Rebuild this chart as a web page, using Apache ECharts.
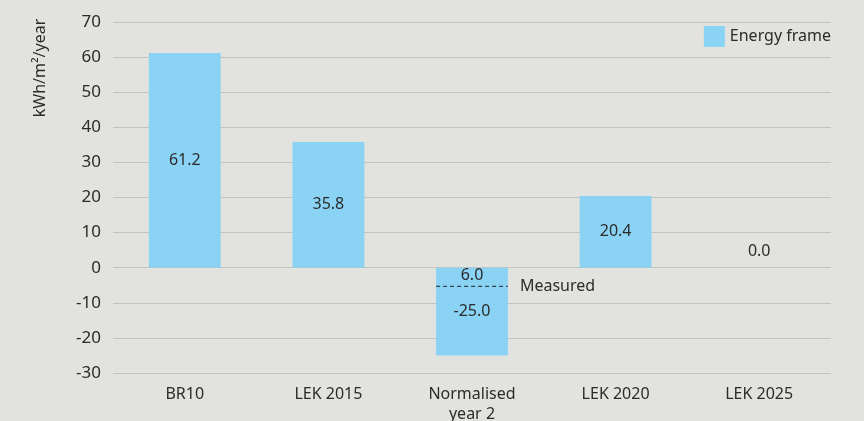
<!DOCTYPE html>
<html lang="en">
<head>
    <meta charset="UTF-8">
    <title>Energy frame</title>
    <script src="https://cdn.jsdelivr.net/npm/echarts@6/dist/echarts.min.js"></script>
    <style>
        html, body { margin: 0; padding: 0; background: #e2e2de; }
    </style>
</head>
<body>
    <div id="main" style="width: 864px;height:421px;"></div>
    <script type="text/javascript">
        // data
        var categories = ['BR10', 'LEK 2015', 'Normalised\nyear 2', 'LEK 2020', 'LEK 2025'];
        var energyFrame = [61.2, 35.8, -25.0, 20.4, 0.0];
        var yTicks = [-30, 70, 10];          // min, max, interval
        var measuredIndex = 2;               // category holding the measured marker
        var measuredLevel = -5.3;
        var measuredText = '6.0';

        var font = '"Noto Sans", sans-serif';
        var textColor = '#2b2b2b';

        var myChart = echarts.init(document.getElementById('main'));

        // dashed "Measured" line across the width of the bar (bar width = 50% of band)
        var half = 0.25;
        var measuredLine = [
            [measuredIndex + 0.5 - half, measuredLevel],
            [measuredIndex + 0.5, measuredLevel],
            [measuredIndex + 0.5 + half, measuredLevel]
        ];

        var option = {
            backgroundColor: '#e2e2de',
            textStyle: { fontFamily: font },
            animation: false,
            grid: { left: 113, right: 33, top: 22, bottom: 48, outerBoundsMode: 'none', containLabel: false },
            legend: {
                right: 28, top: 21,
                itemWidth: 21, itemHeight: 21, itemGap: 6,
                data: [{ name: 'Energy frame', icon: 'rect' }],
                textStyle: { fontSize: 16, color: textColor, fontFamily: font }
            },
            graphic: [{
                type: 'text',
                x: 40, y: 68,
                rotation: Math.PI / 2,
                style: {
                    text: 'kWh/m²/year',
                    fill: textColor,
                    font: '16px "Noto Sans", sans-serif',
                    align: 'center',
                    verticalAlign: 'middle'
                }
            }],
            xAxis: [{
                type: 'category',
                data: categories,
                axisLine: { show: false },
                axisTick: { show: false },
                axisLabel: { fontSize: 16, color: textColor, margin: 11, lineHeight: 20, interval: 0 }
            }, {
                type: 'value',
                min: 0, max: categories.length,
                show: false
            }],
            yAxis: {
                type: 'value',
                min: yTicks[0], max: yTicks[1], interval: yTicks[2],
                axisLine: { show: false },
                axisTick: { show: false },
                axisLabel: { fontSize: 17, color: textColor, margin: 12 },
                splitLine: { lineStyle: { color: '#c3c3bf', width: 1 } }
            },
            series: [{
                name: 'Energy frame',
                type: 'bar',
                barWidth: '50%',
                itemStyle: { color: '#8ad3f4' },
                data: energyFrame.map(function (v) {
                    return {
                        value: v,
                        label: { position: v === 0 ? 'top' : 'inside', distance: 8 }
                    };
                }),
                label: {
                    show: true,
                    fontSize: 16,
                    color: textColor,
                    formatter: function (p) { return p.value.toFixed(1); }
                }
            }, {
                name: 'Measured',
                type: 'line',
                xAxisIndex: 1,
                symbol: 'circle',
                symbolSize: 0,
                lineStyle: { color: '#222222', width: 1, type: [4, 3] },
                data: measuredLine.map(function (d, i) {
                    if (i === 1) {
                        return {
                            value: d,
                            label: {
                                show: true, position: 'top', distance: 3,
                                formatter: measuredText, fontSize: 16, color: textColor
                            }
                        };
                    }
                    return d;
                }),
                endLabel: {
                    show: true,
                    formatter: 'Measured',
                    distance: 12,
                    fontSize: 16,
                    color: textColor
                }
            }]
        };

        myChart.setOption(option);
    </script>
</body>
</html>
